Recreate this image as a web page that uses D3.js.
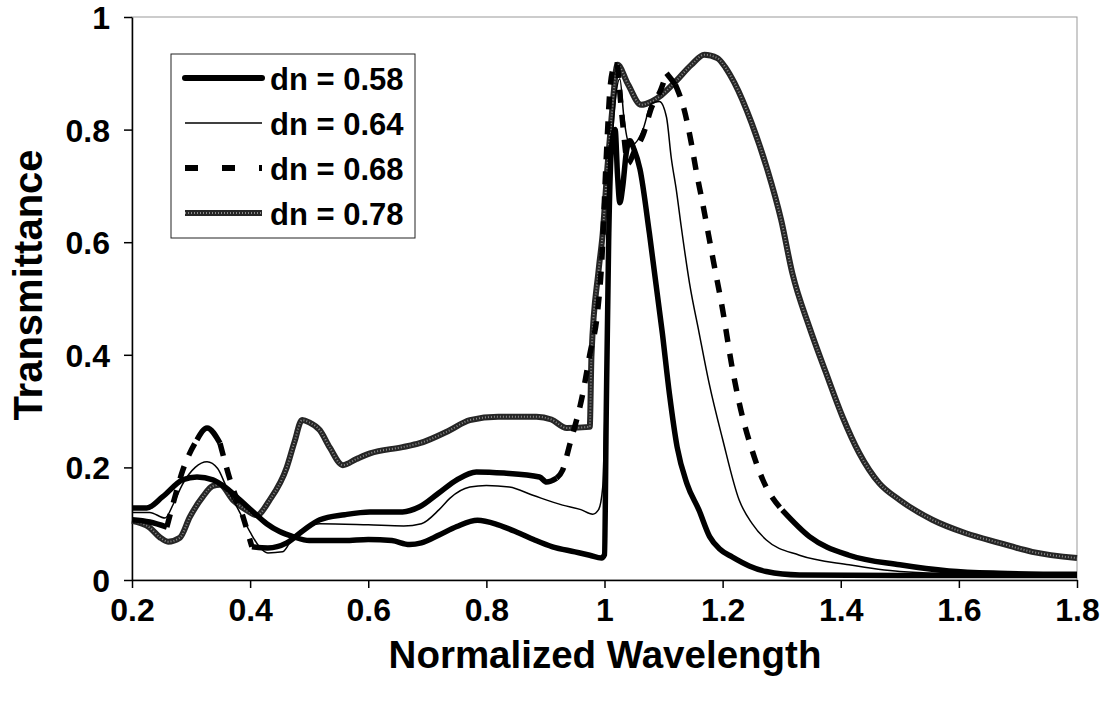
<!DOCTYPE html>
<html>
<head>
<meta charset="utf-8">
<script src="https://cdn.jsdelivr.net/npm/d3@7"></script>
<style>
  body { margin: 0; background: #fff; }
  text { font-family: "Liberation Sans", Arial, sans-serif; font-weight: bold; fill: #000; }
</style>
</head>
<body>
<script>

// transmittance curves, [normalized wavelength, T]
var dn058 = [[0.2,0.128],[0.225,0.128],[0.252,0.148],[0.286,0.178],[0.31,0.183],[0.337,0.178],[0.36,0.163],
  [0.383,0.142],[0.405,0.121],[0.428,0.1],[0.45,0.086],[0.473,0.077],[0.5,0.07],[0.56,0.07],[0.6,0.072],
  [0.64,0.07],[0.67,0.063],[0.69,0.066],[0.72,0.08],[0.75,0.095],[0.785,0.106],[0.82,0.098],[0.856,0.083],
  [0.88,0.072],[0.912,0.059],[0.95,0.05],[0.975,0.044],[0.995,0.039],[1.0,0.045],[1.003,0.3],[1.007,0.6],
  [1.012,0.77],[1.018,0.8],[1.022,0.72],[1.026,0.67],[1.031,0.7],[1.037,0.76],[1.043,0.78],[1.05,0.765],
  [1.06,0.73],[1.076,0.616],[1.098,0.438],[1.11,0.33],[1.123,0.236],[1.14,0.17],[1.16,0.124],[1.178,0.077],
  [1.195,0.055],[1.216,0.041],[1.245,0.025],[1.274,0.015],[1.33,0.009],[1.5,0.008],[1.8,0.008]];

var dn064 = [[0.2,0.12],[0.23,0.12],[0.256,0.11],[0.27,0.135],[0.285,0.169],[0.307,0.2],[0.327,0.21],
  [0.345,0.198],[0.36,0.165],[0.38,0.125],[0.4,0.085],[0.415,0.06],[0.43,0.048],[0.455,0.05],[0.473,0.076],
  [0.518,0.1],[0.6,0.098],[0.66,0.096],[0.69,0.1],[0.72,0.125],[0.738,0.145],[0.772,0.165],[0.8,0.168],
  [0.839,0.165],[0.88,0.15],[0.929,0.133],[0.96,0.125],[0.98,0.117],[0.99,0.125],[0.997,0.165],[1.003,0.4],
  [1.01,0.7],[1.018,0.85],[1.026,0.89],[1.033,0.82],[1.04,0.78],[1.05,0.775],[1.065,0.8],[1.08,0.847],
  [1.093,0.85],[1.105,0.822],[1.113,0.75],[1.122,0.69],[1.13,0.627],[1.144,0.527],[1.16,0.44],[1.177,0.35],
  [1.2,0.25],[1.228,0.142],[1.25,0.1],[1.274,0.071],[1.33,0.044],[1.414,0.027],[1.5,0.015],[1.6,0.011],[1.8,0.01]];

var dn068 = [[0.2,0.107],[0.23,0.103],[0.259,0.094],[0.272,0.145],[0.286,0.195],[0.31,0.249],[0.327,0.27],
  [0.349,0.243],[0.366,0.178],[0.388,0.112],[0.403,0.059],[0.43,0.057],[0.462,0.066],[0.49,0.088],
  [0.518,0.107],[0.56,0.116],[0.603,0.121],[0.658,0.121],[0.687,0.13],[0.72,0.155],[0.75,0.178],[0.783,0.192],
  [0.83,0.19],[0.89,0.183],[0.902,0.174],[0.919,0.181],[0.929,0.195],[0.941,0.24],[0.963,0.33],[0.975,0.4],
  [0.988,0.474],[0.995,0.56],[1.003,0.75],[1.01,0.88],[1.017,0.915],[1.022,0.915],[1.03,0.82],[1.04,0.74],
  [1.05,0.76],[1.065,0.79],[1.08,0.84],[1.095,0.87],[1.105,0.9],[1.12,0.88],[1.135,0.835],[1.147,0.776],
  [1.155,0.728],[1.166,0.67],[1.183,0.574],[1.2,0.48],[1.216,0.378],[1.228,0.315],[1.25,0.23],[1.268,0.178],
  [1.301,0.124],[1.347,0.077],[1.414,0.044],[1.5,0.027],[1.583,0.016],[1.668,0.012],[1.8,0.01]];

var dn078 = [[0.2,0.105],[0.23,0.093],[0.247,0.076],[0.261,0.068],[0.281,0.075],[0.298,0.112],[0.32,0.148],
  [0.337,0.167],[0.349,0.169],[0.371,0.142],[0.394,0.124],[0.411,0.115],[0.433,0.142],[0.462,0.2],
  [0.475,0.245],[0.488,0.284],[0.5,0.28],[0.518,0.266],[0.535,0.235],[0.557,0.204],[0.58,0.215],[0.603,0.225],
  [0.658,0.236],[0.687,0.243],[0.738,0.266],[0.772,0.284],[0.82,0.29],[0.885,0.29],[0.91,0.285],[0.936,0.27],
  [0.975,0.272],[0.978,0.4],[0.99,0.55],[0.997,0.616],[1.005,0.734],[1.012,0.822],[1.022,0.915],[1.04,0.88],
  [1.062,0.844],[1.08,0.85],[1.096,0.861],[1.12,0.885],[1.147,0.915],[1.169,0.933],[1.191,0.927],[1.205,0.91],
  [1.22,0.883],[1.249,0.812],[1.276,0.728],[1.299,0.64],[1.318,0.545],[1.347,0.449],[1.375,0.368],[1.403,0.29],
  [1.431,0.226],[1.465,0.172],[1.5,0.142],[1.555,0.107],[1.612,0.083],[1.668,0.066],[1.724,0.05],[1.8,0.039]];

var xTicks = [0.2, 0.4, 0.6, 0.8, 1, 1.2, 1.4, 1.6, 1.8];
var xTickLabels = ["0.2", "0.4", "0.6", "0.8", "1", "1.2", "1.4", "1.6", "1.8"];
var yTicks = [0, 0.2, 0.4, 0.6, 0.8, 1];
var yTickLabels = ["0", "0.2", "0.4", "0.6", "0.8", "1"];
var legendLabels = ["dn = 0.58", "dn = 0.64", "dn = 0.68", "dn = 0.78"];

var width = 1105, height = 702;
var margin = {top: 17, right: 28, bottom: 122, left: 132};

var svg = d3.select("body").append("svg")
    .attr("width", width)
    .attr("height", height);

var x = d3.scaleLinear().domain([0.2, 1.8]).range([margin.left, width - margin.right]);
var y = d3.scaleLinear().domain([0, 1]).range([height - margin.bottom, margin.top]);

// plot frame (light top/right border)
svg.append("rect")
    .attr("x", x(0.2)).attr("y", y(1))
    .attr("width", x(1.8) - x(0.2)).attr("height", y(0) - y(1))
    .attr("fill", "none").attr("stroke", "#999").attr("stroke-width", 1);

// axes
var xAxis = d3.axisBottom(x).tickValues(xTicks)
    .tickFormat(function(d, i){ return xTickLabels[i]; })
    .tickSize(8).tickSizeOuter(0).tickPadding(10);
var yAxis = d3.axisLeft(y).tickValues(yTicks)
    .tickFormat(function(d, i){ return yTickLabels[i]; })
    .tickSize(8).tickSizeOuter(0).tickPadding(14);

var gx = svg.append("g").attr("transform", "translate(0," + y(0) + ")").call(xAxis);
var gy = svg.append("g").attr("transform", "translate(" + x(0.2) + ",0)").call(yAxis);

[gx, gy].forEach(function(g){
    g.selectAll("path, line").attr("stroke", "#000").attr("stroke-width", 1.5);
    g.selectAll("text").style("font-size", "32px").attr("font-family", null).attr("font-size", null);
});
gy.selectAll("text").attr("dy", "0.36em");

// axis titles
svg.append("text")
    .attr("x", 605).attr("y", 668)
    .attr("text-anchor", "middle")
    .style("font-size", "38.5px")
    .text("Normalized Wavelength");

svg.append("text")
    .attr("transform", "translate(42,285) rotate(-90)")
    .attr("text-anchor", "middle")
    .style("font-size", "40px")
    .text("Transmittance");

// curves
var line = d3.line()
    .curve(d3.curveMonotoneX)
    .x(function(d){ return x(d[0]); })
    .y(function(d){ return y(d[1]); });

var plot = svg.append("g");

// dn = 0.78: dark stippled line
plot.append("path").datum(dn078).attr("d", line)
    .attr("fill", "none").attr("stroke", "#262626").attr("stroke-width", 6)
    .attr("stroke-linejoin", "round");
plot.append("path").datum(dn078).attr("d", line)
    .attr("fill", "none").attr("stroke", "#8a8a8a").attr("stroke-width", 2)
    .attr("stroke-dasharray", "1,2");

// dashed series: like the source, steep pieces show dashes, flat pieces look solid
function dashedPieces(data){
    var pieces = [], cur = null;
    for (var i = 1; i < data.length; i++){
        var dx = Math.abs(x(data[i][0]) - x(data[i-1][0]));
        var dy = Math.abs(y(data[i][1]) - y(data[i-1][1]));
        var steep = dy > 1.3 * dx;
        if (!cur || cur.steep !== steep){
            cur = {steep: steep, pts: [data[i-1]]};
            pieces.push(cur);
        }
        cur.pts.push(data[i]);
    }
    return pieces;
}

plot.selectAll(".dash68").data(dashedPieces(dn068)).enter().append("path")
    .attr("class", "dash68")
    .attr("d", function(d){ return line(d.pts); })
    .attr("fill", "none").attr("stroke", "#000").attr("stroke-width", 5.5)
    .attr("stroke-dasharray", function(d){ return d.steep ? "13,12" : null; })
    .attr("stroke-linejoin", "round");

plot.append("path").datum(dn064).attr("d", line)
    .attr("fill", "none").attr("stroke", "#000").attr("stroke-width", 1.5)
    .attr("stroke-linejoin", "round");

plot.append("path").datum(dn058).attr("d", line)
    .attr("fill", "none").attr("stroke", "#000").attr("stroke-width", 5.5)
    .attr("stroke-linejoin", "round");

// legend
var legend = svg.append("g").attr("transform", "translate(171,54)");
legend.append("rect")
    .attr("width", 244).attr("height", 184)
    .attr("fill", "#fff").attr("stroke", "#222").attr("stroke-width", 1);

var legendStyles = [
    {stroke: "#000", width: 6, dash: null},
    {stroke: "#000", width: 1.5, dash: null},
    {stroke: "#000", width: 6, dash: "13,24"},
    {stroke: "#262626", width: 6, dash: null}
];

var items = legend.selectAll(".item").data(legendLabels).enter().append("g")
    .attr("class", "item")
    .attr("transform", function(d, i){ return "translate(0," + (24 + i * 45) + ")"; });

items.append("line")
    .attr("x1", 14).attr("x2", 91)
    .attr("stroke", function(d, i){ return legendStyles[i].stroke; })
    .attr("stroke-width", function(d, i){ return legendStyles[i].width; })
    .attr("stroke-dasharray", function(d, i){ return legendStyles[i].dash; })
    .attr("stroke-linecap", function(d, i){ return i === 0 ? "round" : "butt"; });

items.filter(function(d, i){ return i === 3; }).append("line")
    .attr("x1", 14).attr("x2", 91)
    .attr("stroke", "#8a8a8a").attr("stroke-width", 2)
    .attr("stroke-dasharray", "1,2");

items.append("text")
    .attr("x", 99).attr("y", 12)
    .style("font-size", "31px")
    .text(function(d){ return d; });

</script>
</body>
</html>
